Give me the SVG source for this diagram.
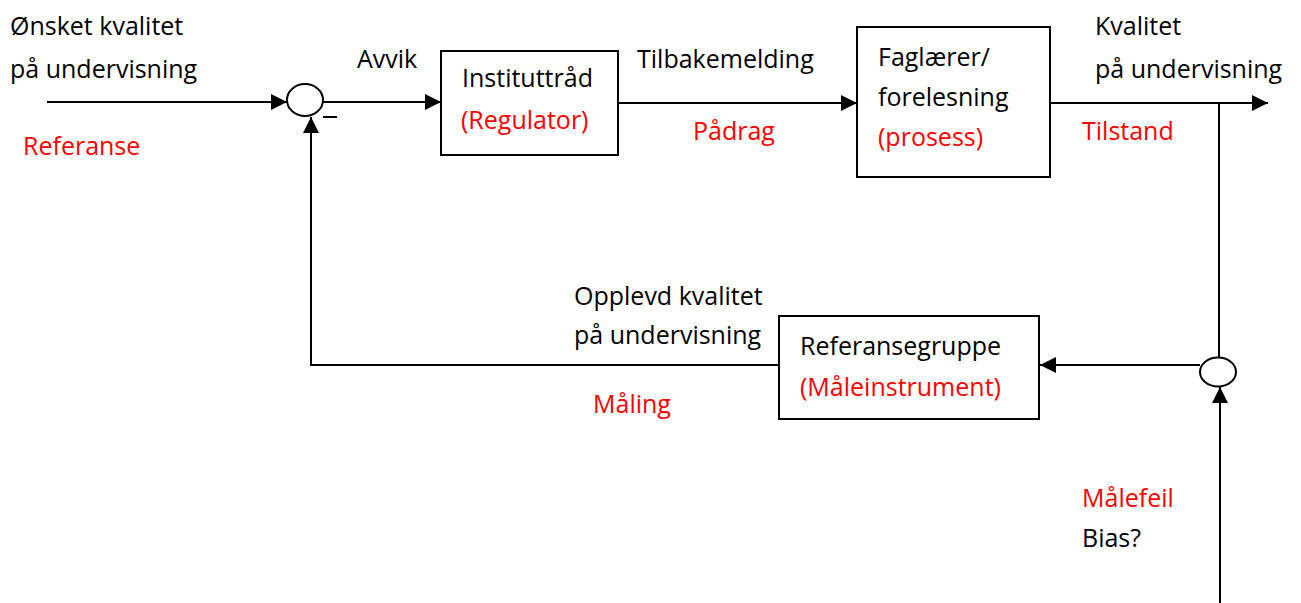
<svg xmlns="http://www.w3.org/2000/svg" width="1301" height="603" viewBox="0 0 1301 603">
<style>
text{font-family:"Open Sans","Liberation Sans",sans-serif;font-size:25px;fill:#000}
.r{fill:#ff0000}
.b{fill:#fff;stroke:#000;stroke-width:2}
.l{fill:none;stroke:#000;stroke-width:2}
</style>
<defs>
<marker id="A" viewBox="0 0 16 16" refX="16" refY="8" markerWidth="16" markerHeight="16" orient="auto" markerUnits="userSpaceOnUse">
<path d="M0,0 L16,8 L0,16 Z" fill="#000"/>
</marker>
</defs>
<g id="connectors">
<line class="l" x1="47" y1="102" x2="287" y2="102" marker-end="url(#A)"/>
<line class="l" x1="323" y1="102" x2="441" y2="102" marker-end="url(#A)"/>
<line class="l" x1="618" y1="103" x2="857" y2="103" marker-end="url(#A)"/>
<line class="l" x1="1050" y1="103" x2="1268" y2="103" marker-end="url(#A)"/>
<line class="l" x1="1219" y1="103" x2="1219" y2="358"/>
<line class="l" x1="1200" y1="365" x2="1040" y2="365" marker-end="url(#A)"/>
<polyline class="l" points="779,365 311,365 311,117" marker-end="url(#A)"/>
<line class="l" x1="1220" y1="603" x2="1220" y2="387" marker-end="url(#A)"/>
<line class="l" x1="323" y1="117" x2="337" y2="117"/>
</g>
<g id="sum1"><ellipse class="b" cx="305" cy="100" rx="18" ry="16"/></g>
<g id="sum2"><ellipse class="b" cx="1218" cy="372" rx="18" ry="14.5"/></g>
<g id="regulator">
<rect class="b" x="441" y="51" width="177" height="104"/>
<text x="462" y="87">Instituttråd</text>
<text class="r" x="461" y="129">(Regulator)</text>
</g>
<g id="prosess">
<rect class="b" x="857" y="27" width="193" height="150"/>
<text x="878" y="66">Faglærer/</text>
<text x="878" y="106">forelesning</text>
<text class="r" x="878" y="146">(prosess)</text>
</g>
<g id="maaleinstrument">
<rect class="b" x="779" y="316" width="260" height="103"/>
<text x="800" y="355">Referansegruppe</text>
<text class="r" x="800" y="396">(Måleinstrument)</text>
</g>
<g id="labels">
<text x="10" y="35">Ønsket kvalitet</text>
<text x="10" y="78">på undervisning</text>
<text class="r" x="23" y="155">Referanse</text>
<text x="357" y="68">Avvik</text>
<text x="637" y="68">Tilbakemelding</text>
<text class="r" x="693" y="140">Pådrag</text>
<text x="1095" y="35">Kvalitet</text>
<text x="1095" y="78">på undervisning</text>
<text class="r" x="1082" y="140">Tilstand</text>
<text x="574" y="305">Opplevd kvalitet</text>
<text x="574" y="344">på undervisning</text>
<text class="r" x="593" y="413">Måling</text>
<text class="r" x="1082" y="507">Målefeil</text>
<text x="1082" y="547">Bias?</text>
</g>
</svg>
